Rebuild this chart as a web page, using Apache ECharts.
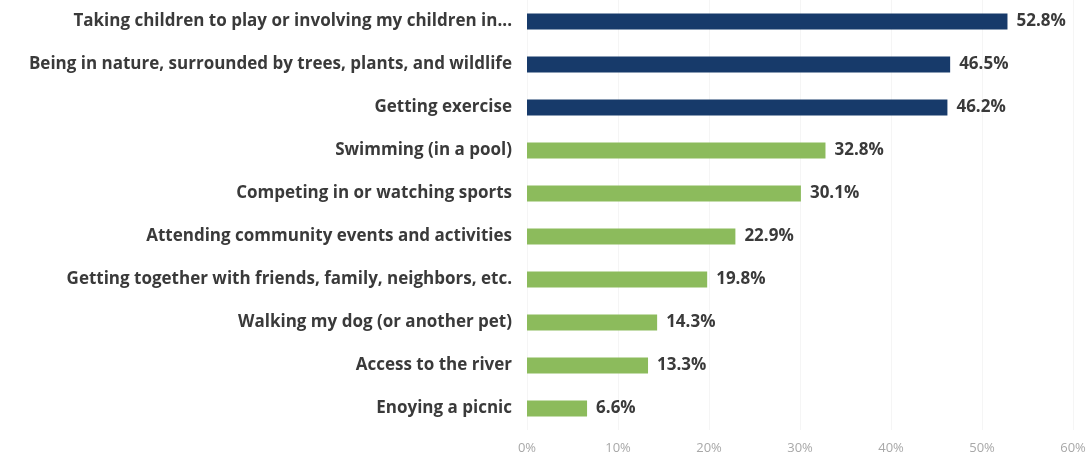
<!DOCTYPE html>
<html><head><meta charset="utf-8">
<script src="https://cdn.jsdelivr.net/npm/echarts@6/dist/echarts.min.js"></script>
<style>html,body{margin:0;padding:0;background:#fff}#c{width:1091px;height:457px}</style>
</head><body><div id="c"></div>
<script>
const categories = [
  "Taking children to play or involving my children in...",
  "Being in nature, surrounded by trees, plants, and wildlife",
  "Getting exercise",
  "Swimming (in a pool)",
  "Competing in or watching sports",
  "Attending community events and activities",
  "Getting together with friends, family, neighbors, etc.",
  "Walking my dog (or another pet)",
  "Access to the river",
  "Enoying a picnic"
];
const values = [52.8, 46.5, 46.2, 32.8, 30.1, 22.9, 19.8, 14.3, 13.3, 6.6];
const highlightCount = 3;
const xTicks = [0, 10, 20, 30, 40, 50, 60];

const navy = '#173a6a', green = '#8cbb5c';
const chart = echarts.init(document.getElementById('c'));
chart.setOption({
  animation: false,
  grid: { left: 527, right: 18, top: -3, height: 433, containLabel: false },
  xAxis: {
    type: 'value', min: xTicks[0], max: xTicks[xTicks.length-1], interval: 10,
    axisLine: { show: false }, axisTick: { show: false },
    splitLine: { show: true, lineStyle: { color: '#f5f5f5' } },
    axisLabel: { formatter: v => v + '%', color: '#a8a8a8', fontSize: 13, fontFamily: 'Open Sans', margin: 12 }
  },
  yAxis: {
    type: 'category', data: categories, inverse: true,
    axisLine: { show: false }, axisTick: { show: false },
    axisLabel: { color: '#3a3a3a', fontSize: 17, fontWeight: 'bold', fontFamily: 'Open Sans', margin: 15 }
  },
  series: [{
    type: 'bar', barWidth: 16,
    data: values.map((v, i) => ({ value: v, itemStyle: { color: i < highlightCount ? navy : green } })),
    label: { show: true, position: 'right', distance: 9, formatter: p => p.value.toFixed(1) + '%',
      color: '#3a3a3a', fontSize: 17, fontWeight: 'bold', fontFamily: 'Open Sans' }
  }]
});
</script></body></html>
